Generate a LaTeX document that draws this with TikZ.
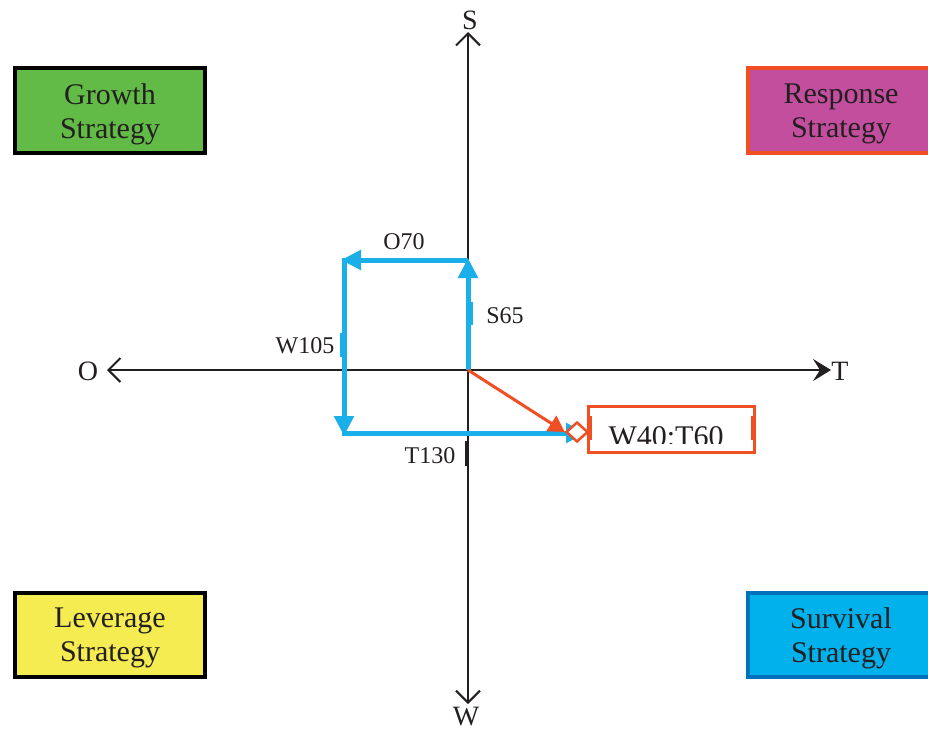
\documentclass[tikz,border=0pt]{standalone}
\usepackage{fontspec}
\setmainfont{Liberation Serif}
\usetikzlibrary{arrows.meta,shapes.geometric}
\definecolor{gfill}{HTML}{62BB46}
\definecolor{rfill}{HTML}{C44E9E}
\definecolor{rline}{HTML}{F04E23}
\definecolor{lfill}{HTML}{F5EC51}
\definecolor{sfill}{HTML}{00B1EC}
\definecolor{sline}{HTML}{0072BC}
\definecolor{pblue}{HTML}{1AAFE8}
\definecolor{txt}{HTML}{231F20}
\tikzset{
  quad/.style={draw, line width=4pt, minimum width=190pt, minimum height=84pt, inner sep=0pt},
  qtext/.style={align=center, text=txt, inner sep=0pt, font=\fontsize{30}{34}\selectfont},
  axis/.style={line width=2pt, draw=txt},
  axlabel/.style={font=\fontsize{28}{30}\selectfont, text=txt, inner sep=0pt},
  vlabel/.style={font=\fontsize{24}{26}\selectfont, text=txt, inner sep=0pt},
  bluepath/.style={line width=5pt, draw=pblue, -{Triangle[length=20pt,width=19pt]}},
  barb/.tip={Straight Barb[length=12pt,width=24pt,line width=2pt]},
}
\begin{document}
\begin{tikzpicture}[x=1pt,y=-1pt]
\useasboundingbox (0,0) rectangle (928,733);
% quadrant boxes
\node[quad, fill=gfill, draw=black] (growth) at (110,110.5) {};
\node[qtext] (growthT) at (110,114) {Growth\\Strategy};
\node[quad, fill=rfill, draw=rline, minimum width=186pt, anchor=west] (response) at (746,110.5) {};
\node[qtext] (responseT) at (841,114) {Response\\Strategy};
\node[quad, fill=lfill, draw=black] (leverage) at (110,635) {};
\node[qtext] (leverageT) at (110,638) {Leverage\\Strategy};
\node[quad, fill=sfill, draw=sline, minimum width=186pt, anchor=west] (survival) at (746,635) {};
\node[qtext] (survivalT) at (841,638) {Survival\\Strategy};
% axes
\coordinate (top) at (468,32);
\coordinate (bot) at (468,704);
\coordinate (left) at (107,370);
\coordinate (right) at (831,370);
\coordinate (o) at (468,370);
\draw[axis, {barb}-{barb}] (bot) -- (top);
\draw[axis, {barb}-{Stealth[length=18pt,width=22pt,inset=7pt]}] (left) -- (right);
\node[axlabel] (S) at (470,20) {S};
\node[axlabel] (W) at (466,717) {W};
\node[axlabel] (O) at (88,371) {O};
\node[axlabel] (T) at (840,371) {T};
% blue path
\coordinate (a) at (468,258);
\coordinate (b) at (341,260);
\coordinate (c) at (344,436);
\coordinate (d) at (586,433);
\draw[bluepath] (o) -- (a);
\draw[bluepath] (468,260) -- (b);
\draw[bluepath] (344,258) -- (c);
\draw[bluepath] (342,433) -- (d);
% small marks
\fill[pblue] (469,302) rectangle (473,325);
\fill[pblue] (340,333) rectangle (347,357);
\fill[txt] (465,441) rectangle (468,466);
% labels
\node[vlabel] (o70) at (404,242) {O70};
\node[vlabel] (s65) at (505,316) {S65};
\node[vlabel] (w105) at (305,346) {W105};
\node[vlabel] (t130) at (430,456) {T130};
% result
\node[draw=rline, line width=3.5pt, fill=white, minimum width=166pt, minimum height=46pt, inner sep=0pt] (res) at (671.5,429.5) {};
\begin{scope}
\clip (595,412) rectangle (750,443);
\node[font=\fontsize{30}{30}\selectfont, text=txt, inner sep=0pt, anchor=base] (resT) at (666,446) {W40:T60};
\end{scope}
\fill[rline] (590,416) rectangle (592,440);
\fill[rline] (751,416) rectangle (753,440);
\node[diamond, draw=rline, line width=2.5pt, fill=white, minimum width=22pt, minimum height=20pt, inner sep=0pt] (dm) at (577,432) {};
\draw[rline, line width=3pt, -{Triangle[length=16pt,width=18pt]}] (o) -- (dm.west);
\end{tikzpicture}
\end{document}
